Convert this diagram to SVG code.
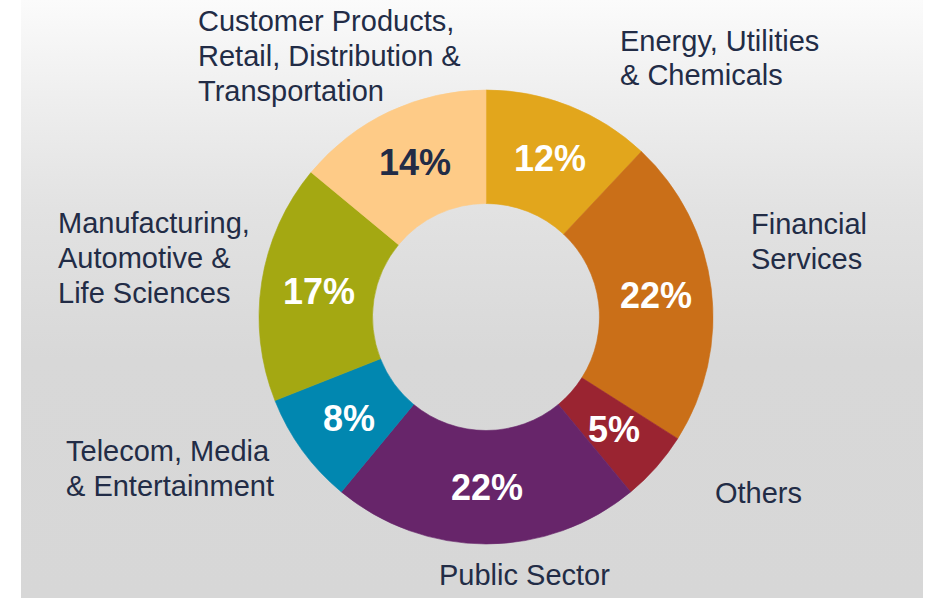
<svg xmlns="http://www.w3.org/2000/svg" width="930" height="598" viewBox="0 0 930 598">
<defs>
<linearGradient id="bg" x1="0" y1="0" x2="0" y2="1">
<stop offset="0" stop-color="#fbfbfb"/>
<stop offset="0.17" stop-color="#eeeeee"/>
<stop offset="0.35" stop-color="#e2e2e2"/>
<stop offset="0.6" stop-color="#d8d8d8"/>
<stop offset="1" stop-color="#d7d7d7"/>
</linearGradient>
<style>
.lbl{font-family:"Liberation Sans",Arial,sans-serif;font-size:29px;fill:#222c46;}
.pct{font-family:"Liberation Sans",Arial,sans-serif;font-size:36px;font-weight:bold;fill:#ffffff;text-anchor:middle;}
.dark{fill:#222c46;}
</style>
</defs>
<rect x="0" y="0" width="930" height="598" fill="#ffffff"/>
<rect x="21" y="0" width="902" height="598" fill="url(#bg)"/>
<g id="connectors"></g>
<g id="seg-energy">
<path d="M486,90 A227,227 0 0 1 641.38,151.52 L563.69,234.26 A113.5,113.5 0 0 0 486,203.5 Z" fill="#e2a61c" stroke="#e2a61c" stroke-width="0.6"/>
<text class="pct" x="550" y="171">12%</text>
</g>
<g id="seg-financial">
<path d="M641.38,151.52 A227,227 0 0 1 677.66,438.63 L581.83,377.81 A113.5,113.5 0 0 0 563.69,234.26 Z" fill="#ca6f18" stroke="#ca6f18" stroke-width="0.6"/>
<text class="pct" x="656" y="308">22%</text>
</g>
<g id="seg-others">
<path d="M677.66,438.63 A227,227 0 0 1 630.69,491.9 L558.34,404.45 A113.5,113.5 0 0 0 581.83,377.81 Z" fill="#9a2431" stroke="#9a2431" stroke-width="0.6"/>
<text class="pct" x="614" y="442">5%</text>
</g>
<g id="seg-public">
<path d="M630.69,491.9 A227,227 0 0 1 341.31,491.9 L413.66,404.45 A113.5,113.5 0 0 0 558.34,404.45 Z" fill="#67256a" stroke="#67256a" stroke-width="0.6"/>
<text class="pct" x="487" y="500">22%</text>
</g>
<g id="seg-telecom">
<path d="M341.31,491.9 A227,227 0 0 1 274.94,400.56 L380.47,358.78 A113.5,113.5 0 0 0 413.66,404.45 Z" fill="#0187b0" stroke="#0187b0" stroke-width="0.6"/>
<text class="pct" x="349" y="431">8%</text>
</g>
<g id="seg-manufacturing">
<path d="M274.94,400.56 A227,227 0 0 1 311.1,172.31 L398.55,244.66 A113.5,113.5 0 0 0 380.47,358.78 Z" fill="#a4a812" stroke="#a4a812" stroke-width="0.6"/>
<text class="pct" x="319" y="304">17%</text>
</g>
<g id="seg-customer">
<path d="M311.1,172.31 A227,227 0 0 1 486,90 L486,203.5 A113.5,113.5 0 0 0 398.55,244.66 Z" fill="#fecb87" stroke="#fecb87" stroke-width="0.6"/>
<text class="pct dark" x="415" y="175">14%</text>
</g>
<g id="label-customer">
<text class="lbl" x="198" y="31">Customer Products,</text>
<text class="lbl" x="198" y="66">Retail, Distribution &amp;</text>
<text class="lbl" x="198" y="101">Transportation</text>
</g>
<g id="label-energy">
<text class="lbl" x="620" y="51">Energy, Utilities</text>
<text class="lbl" x="620" y="85">&amp; Chemicals</text>
</g>
<g id="label-financial">
<text class="lbl" x="751" y="234">Financial</text>
<text class="lbl" x="751" y="269">Services</text>
</g>
<g id="label-manufacturing">
<text class="lbl" x="58" y="233">Manufacturing,</text>
<text class="lbl" x="58" y="268">Automotive &amp;</text>
<text class="lbl" x="58" y="303">Life Sciences</text>
</g>
<g id="label-telecom">
<text class="lbl" x="66" y="461">Telecom, Media</text>
<text class="lbl" x="66" y="496">&amp; Entertainment</text>
</g>
<g id="label-others">
<text class="lbl" x="715" y="503">Others</text>
</g>
<g id="label-public">
<text class="lbl" x="439" y="585">Public Sector</text>
</g>
</svg>
